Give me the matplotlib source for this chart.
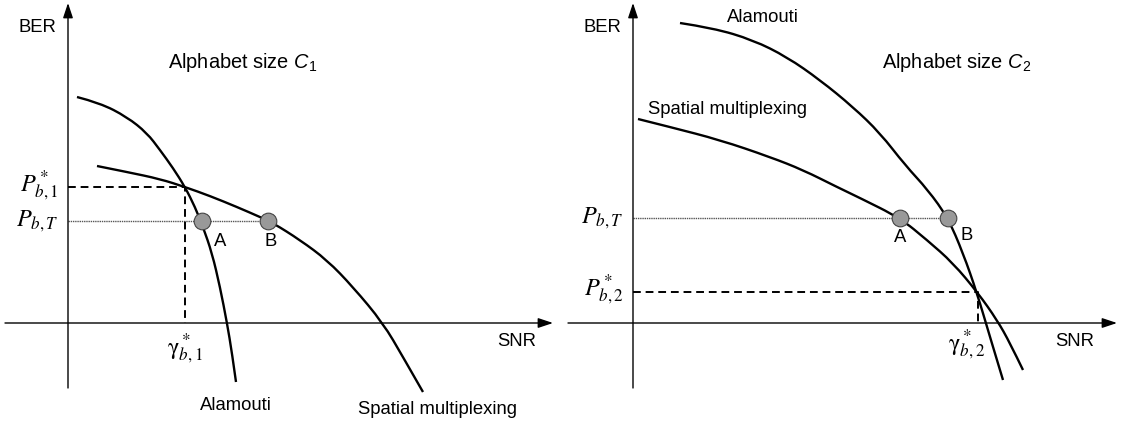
import matplotlib.pyplot as plt
from matplotlib.path import Path
from matplotlib.patches import PathPatch

plt.rcParams['font.family'] = ['Liberation Sans', 'DejaVu Sans']
plt.rcParams['mathtext.fontset'] = 'custom'
plt.rcParams['mathtext.rm'] = 'Liberation Sans'
plt.rcParams['mathtext.it'] = 'Liberation Sans:italic'

# BER vs SNR sketch curves, (snr, ber) pairs in drawing units
# left panel: alphabet size C1
ala1_x = [77, 100, 127, 147, 160, 173, 185, 195, 203, 212, 220, 227, 232, 236]
ala1_y = [97, 103, 117, 133, 150, 168, 187, 207, 227, 253, 287, 323, 353, 382]
smx1_x = [97, 127, 160, 185, 210, 237, 260, 273, 300, 327, 353, 383, 403, 423]
smx1_y = [166, 172, 179, 187, 196, 207, 217, 223, 240, 260, 287, 323, 357, 392]

# right panel: alphabet size C2
ala2_x = [680, 713, 753, 787, 820, 853, 880, 905, 928, 948, 963, 977, 990, 1003]
ala2_y = [23, 28, 40, 57, 80, 107, 133, 165, 190, 218, 253, 293, 337, 380]
smx2_x = [638, 670, 720, 770, 803, 837, 860, 900, 927, 953, 978, 997, 1010, 1023]
smx2_y = [119, 127, 140, 157, 170, 187, 198, 218, 240, 263, 293, 320, 343, 370]

# target BER and crossover points
pbt = [221, 218]
cross_x = [185, 978]
cross_y = [187, 292]
ptA_x = [202, 900]
ptB_x = [268, 948]

origin_x = [68, 633]
xaxis_y = 323


def smooth_path(xs, ys):
    # quadratic bezier through segment midpoints, using the samples as controls
    pts = list(zip(xs, ys))
    verts = [pts[0]]
    codes = [Path.MOVETO]
    for i in range(1, len(pts) - 1):
        mid = ((pts[i][0] + pts[i + 1][0]) / 2, (pts[i][1] + pts[i + 1][1]) / 2)
        if i == len(pts) - 2:
            mid = pts[-1]
        verts += [pts[i], mid]
        codes += [Path.CURVE3, Path.CURVE3]
    return Path(verts, codes)


fig = plt.figure(figsize=(11.23, 4.21), dpi=100)
ax = fig.add_axes([0, 0, 1, 1])
ax.set_xlim(0, 1123)
ax.set_ylim(421, 0)
ax.axis('off')

arr = dict(arrowstyle='-|>,head_length=0.9,head_width=0.3', color='black',
           lw=1.0, shrinkA=0, shrinkB=0)
xstart = [5, 568]
xend = [553, 1117]
for i in range(2):
    ox = origin_x[i]
    ax.annotate('', xy=(ox, 3), xytext=(ox, 388), arrowprops=arr)
    ax.annotate('', xy=(xend[i], xaxis_y), xytext=(xstart[i], xaxis_y),
                arrowprops=arr)
    # target BER line
    ax.plot([ox, ptB_x[i]], [pbt[i], pbt[i]], color='#555555', lw=1.0,
            ls=(0, (1, 0.6)))
    # crossover projections
    ax.plot([ox, cross_x[i], cross_x[i]], [cross_y[i], cross_y[i], xaxis_y],
            color='black', lw=1.4, ls=(0, (4, 2.5)))

for xs, ys in [(ala1_x, ala1_y), (smx1_x, smx1_y), (ala2_x, ala2_y), (smx2_x, smx2_y)]:
    ax.add_patch(PathPatch(smooth_path(xs, ys), fill=False, ec='black',
                           lw=1.7, capstyle='butt'))

for i in range(2):
    ax.plot([ptA_x[i], ptB_x[i]], [pbt[i], pbt[i]], 'o', ms=12,
            mfc='#999999', mec='#444444', mew=0.8, ls='none', zorder=5)

fs = 13.3
ax.text(37, 27, 'BER', fontsize=fs, ha='center', va='center')
ax.text(602, 27, 'BER', fontsize=fs, ha='center', va='center')
ax.text(243, 63, 'Alphabet size $C_1$', fontsize=14.4, ha='center', va='center')
ax.text(957, 63, 'Alphabet size $C_2$', fontsize=14.4, ha='center', va='center')
ax.text(517, 342, 'SNR', fontsize=fs, ha='center', va='center')
ax.text(1075, 342, 'SNR', fontsize=fs, ha='center', va='center')

ax.text(220, 242, 'A', fontsize=fs, ha='center', va='center')
ax.text(271, 242, 'B', fontsize=fs, ha='center', va='center')
ax.text(900, 237, 'A', fontsize=fs, ha='center', va='center')
ax.text(967, 236, 'B', fontsize=fs, ha='center', va='center')

ax.text(200, 406, 'Alamouti', fontsize=fs, ha='left', va='center')
ax.text(358, 409, 'Spatial multiplexing', fontsize=fs, ha='left', va='center')
ax.text(727, 17, 'Alamouti', fontsize=fs, ha='left', va='center')
ax.text(648, 110, 'Spatial multiplexing', fontsize=fs, ha='left', va='center')

mfs = 17.5
ax.text(59, 186, r'$P^*_{b,1}$', fontsize=mfs, ha='right', va='center',
        math_fontfamily='stix')
ax.text(59, 221, r'$P_{b,T}$', fontsize=mfs, ha='right', va='center',
        math_fontfamily='stix')
ax.text(624, 218, r'$P_{b,T}$', fontsize=mfs, ha='right', va='center',
        math_fontfamily='stix')
ax.text(624, 290, r'$P^*_{b,2}$', fontsize=mfs, ha='right', va='center',
        math_fontfamily='stix')
ax.text(185, 349, r'$\mathrm{\gamma}^*_{b,1}$', fontsize=mfs, ha='center',
        va='center', math_fontfamily='stix')
ax.text(967, 345, r'$\mathrm{\gamma}^*_{b,2}$', fontsize=mfs, ha='center',
        va='center', math_fontfamily='stix')

fig.savefig('out.png', dpi=100)
